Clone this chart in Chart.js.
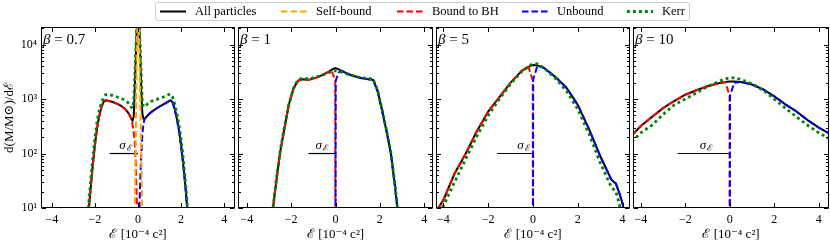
<!DOCTYPE html>
<html>
<head>
<meta charset="utf-8">
<script src="https://cdn.jsdelivr.net/npm/chart.js@4.4.1/dist/chart.umd.min.js"></script>
<style>
  body { margin: 0; width: 830px; height: 243px; overflow: hidden; position: relative; background: #fff; font-family: 'Liberation Serif', serif; }
  canvas { position: absolute; left: 0; top: 0; }
  #legend { position: absolute; left: 155px; top: 2px; width: 533px; height: 17px; border: 1px solid #ccc; border-radius: 3px; background: #fff; z-index: 5; }
  #legend .h { position: absolute; top: 0; }
  #legend .t { position: absolute; top: 0; font-size: 12.5px; line-height: 17px; white-space: nowrap; color: #000; }
</style>
</head>
<body>
<div id="legend"></div>
<script>
const betas = [0.7, 1, 5, 10];
const sigmaE = [1.31, 1.22, 1.61, 2.34];
const xTicks = [-4, -2, 0, 2, 4];
const yTicks = [10, 100, 1000, 10000];
const seriesNames = ['All particles', 'Self-bound', 'Bound to BH', 'Unbound', 'Kerr'];

// beta = 0.7
const e07 = [-2.3, -2.2, -2.1, -2.0, -1.9, -1.8, -1.7, -1.6, -1.5, -1.4, -1.2, -1.0, -0.8, -0.6, -0.45, -0.35, -0.3, -0.25, -0.2, -0.15, -0.1, -0.05, 0, 0.05, 0.1, 0.15, 0.2, 0.25, 0.3, 0.35, 0.45, 0.6, 0.8, 1.0, 1.2, 1.4, 1.5, 1.6, 1.7, 1.8, 1.9, 2.0, 2.1, 2.2, 2.3];
const all07 = [8, 22, 60, 140, 290, 480, 700, 880, 950, 930, 890, 830, 760, 660, 560, 470, 420, 400, 480, 1500, 6000, 25000, 40000, 30000, 7000, 1500, 550, 440, 430, 450, 500, 570, 650, 730, 810, 900, 950, 880, 660, 440, 270, 140, 62, 25, 8];
const self07 = [null, null, null, null, null, null, null, null, null, null, null, null, null, null, null, null, null, null, null, 8, 200, 14000, 40000, 18000, 1300, 100, 8, null, null, null, null, null, null, null, null, null, null, null, null, null, null, null, null, null, null];
const bh07 = [8, 22, 60, 140, 290, 480, 700, 880, 950, 930, 890, 830, 760, 660, 560, 470, 420, 330, 250, 170, 60, 12, 2, null, null, null, null, null, null, null, null, null, null, null, null, null, null, null, null, null, null, null, null, null, null];
const unb07 = [null, null, null, null, null, null, null, null, null, null, null, null, null, null, null, null, null, null, null, null, null, null, 2, 6, 30, 90, 220, 340, 430, 450, 500, 570, 650, 730, 810, 900, 950, 880, 660, 440, 270, 140, 62, 25, 8];
const kerr07 = [10, 30, 80, 190, 380, 620, 850, 1050, 1200, 1220, 1170, 1100, 1030, 950, 850, 760, 700, 680, 900, 2500, 8000, 28000, 40000, 30000, 9000, 2500, 900, 720, 720, 750, 820, 900, 960, 1030, 1100, 1200, 1230, 1100, 820, 560, 340, 180, 80, 30, 10];

// beta = 1
const e1 = [-2.85, -2.7, -2.5, -2.3, -2.1, -1.9, -1.7, -1.5, -1.2, -0.9, -0.6, -0.3, -0.15, -0.01, 0, 0.01, 0.15, 0.3, 0.6, 0.9, 1.2, 1.5, 1.7, 1.9, 2.1, 2.3, 2.5, 2.7, 2.85];
const all1 = [8, 25, 105, 300, 800, 1550, 2150, 2300, 2250, 2450, 2750, 3200, 3500, 3700, 3700, 3700, 3500, 3250, 2850, 2600, 2400, 2300, 2250, 1400, 620, 260, 100, 22, 6];
const bh1 = [8, 25, 105, 300, 800, 1550, 2150, 2300, 2250, 2450, 2750, 3200, 3100, 2200, 1, null, null, null, null, null, null, null, null, null, null, null, null, null, null];
const unb1 = [null, null, null, null, null, null, null, null, null, null, null, null, null, null, 1, 2200, 3100, 3250, 2850, 2600, 2400, 2300, 2250, 1400, 620, 260, 100, 22, 6];
const kerr1 = [8, 27, 110, 310, 820, 1550, 2250, 2400, 2350, 2500, 2750, 3050, 3200, 3300, 3300, 3300, 3200, 3100, 2800, 2600, 2450, 2400, 2300, 1450, 650, 270, 105, 24, 6];

// beta = 5
const e5 = [-4.3, -4.0, -3.5, -3.0, -2.5, -2.0, -1.5, -1.0, -0.5, -0.2, -0.01, 0, 0.01, 0.2, 0.5, 1.0, 1.5, 2.0, 2.5, 3.0, 3.5, 3.7, 3.85, 4.0, 4.15];
const all5 = [9, 14, 43, 100, 260, 590, 1080, 2000, 3300, 3900, 4200, 4200, 4200, 4150, 3700, 2550, 1600, 780, 280, 90, 33, 28, 19, 12, 6];
const bh5 = [9, 14, 43, 100, 260, 590, 1080, 2000, 3300, 3900, 2200, 1, null, null, null, null, null, null, null, null, null, null, null, null, null];
const unb5 = [null, null, null, null, null, null, null, null, null, null, null, 1, 2300, 4100, 3700, 2550, 1600, 780, 280, 90, 33, 28, 19, 12, 6];
const kerr5 = [5, 11, 30, 80, 210, 500, 1000, 1900, 3200, 4000, 4400, 4450, 4450, 4400, 3700, 2400, 1400, 650, 230, 68, 24, 20, 12, 6, 3];

// beta = 10
const e10 = [-4.4, -4.0, -3.5, -3.0, -2.5, -2.0, -1.5, -1.0, -0.5, -0.2, -0.01, 0, 0.01, 0.2, 0.5, 1.0, 1.5, 2.0, 2.5, 3.0, 3.5, 4.0, 4.5];
const all10 = [215, 320, 470, 680, 920, 1200, 1450, 1720, 1950, 2050, 2100, 2100, 2100, 2100, 2050, 1850, 1500, 1120, 800, 590, 410, 300, 230];
const bh10 = [215, 320, 470, 680, 920, 1200, 1450, 1720, 1950, 2050, 1150, 1, null, null, null, null, null, null, null, null, null, null, null];
const unb10 = [null, null, null, null, null, null, null, null, null, null, null, 1, 1150, 2000, 2050, 1850, 1500, 1120, 800, 590, 410, 300, 230];
const kerr10 = [165, 240, 330, 520, 780, 1000, 1300, 1700, 2100, 2350, 2430, 2450, 2450, 2450, 2300, 1900, 1450, 1000, 680, 470, 330, 240, 185];

const panels = [
  { e: e07, all: all07, self: self07, bh: bh07, unb: unb07, kerr: kerr07 },
  { e: e1, all: all1, self: null, bh: bh1, unb: unb1, kerr: kerr1 },
  { e: e5, all: all5, self: null, bh: bh5, unb: unb5, kerr: kerr5 },
  { e: e10, all: all10, self: null, bh: bh10, unb: unb10, kerr: kerr10 }
];

// layout
const W = 830, H = 243;
const panelLeft = [41, 238, 436, 633];
const panelRight = [235, 433, 630, 829];
const xMin = [-4.5, -4.4, -4.33, -4.35];
const xMax = [4.5, 4.4, 4.33, 4.46];
const sigmaTextX = [-0.58, -0.62, -0.43, -1.07];
const serif = "'Liberation Serif', 'DejaVu Serif', serif";

const styles = {
  all:  { color: '#000000', dash: [], width: 2 },
  self: { color: '#FFA500', dash: [6.5, 3], width: 2 },
  bh:   { color: '#FF0000', dash: [6.5, 3], width: 2 },
  unb:  { color: '#0000FF', dash: [6.5, 3], width: 2 },
  kerr: { color: '#008000', dash: [2.8, 3.2], width: 2.8 }
};
const legendKeys = ['all', 'self', 'bh', 'unb', 'kerr'];
const legendHandleX = [160, 281, 397, 522, 627];
const legendTextX = [195, 316, 432, 557, 662];

const sup = { 1: '¹', 2: '²', 3: '³', 4: '⁴' };

// legend
const legend = document.getElementById('legend');
legendKeys.forEach((k, i) => {
  const s = styles[k];
  const h = document.createElement('div');
  h.className = 'h';
  h.style.left = (legendHandleX[i] - 156) + 'px';
  h.innerHTML = `<svg width="26" height="17"><line x1="0" y1="8.5" x2="26" y2="8.5" stroke="${s.color}" stroke-width="${s.width}" stroke-dasharray="${s.dash.join(' ')}"/></svg>`;
  legend.appendChild(h);
  const t = document.createElement('div');
  t.className = 't';
  t.style.left = (legendTextX[i] - 156) + 'px';
  t.textContent = seriesNames[i];
  legend.appendChild(t);
});

const frame = {
  id: 'frame',
  afterDraw(chart, args, opts) {
    const { ctx, chartArea: a, scales: { x, y } } = chart;
    ctx.save();
    ctx.strokeStyle = '#000';
    ctx.lineWidth = 1;
    const L = Math.round(a.left) + 0.5, R = Math.round(a.right) - 0.5;
    const T = Math.round(a.top) + 0.5, B = Math.round(a.bottom) - 0.5;
    ctx.strokeRect(L, T, R - L, B - T);
    ctx.beginPath();
    xTicks.forEach(v => {
      const px = Math.round(x.getPixelForValue(v)) + 0.5;
      ctx.moveTo(px, B); ctx.lineTo(px, B - 4.5);
      ctx.moveTo(px, T); ctx.lineTo(px, T + 4.5);
    });
    for (let d = 1; d <= 4; d++) {
      for (let m = 1; m <= 9; m++) {
        const v = m * Math.pow(10, d);
        if (v > y.max) break;
        const len = m === 1 ? 4.5 : 2.5;
        const py = Math.round(y.getPixelForValue(v)) + 0.5;
        ctx.moveTo(L, py); ctx.lineTo(L + len, py);
        ctx.moveTo(R, py); ctx.lineTo(R - len, py);
      }
    }
    ctx.stroke();

    // beta label
    ctx.fillStyle = '#000';
    ctx.textBaseline = 'alphabetic';
    ctx.font = `italic 15px ${serif}`;
    const bx = a.left + 2, by = a.top + 17;
    ctx.fillText('β', bx, by);
    const bw = ctx.measureText('β').width;
    ctx.font = `15px ${serif}`;
    ctx.fillText(' = ' + opts.beta, bx + bw, by);

    // sigma label
    ctx.font = `italic 13px ${serif}`;
    const sw = ctx.measureText('σ').width;
    ctx.font = `9px ${serif}`;
    const ew = ctx.measureText('ℰ').width;
    const cx = x.getPixelForValue(opts.sigmaX);
    const sy = y.getPixelForValue(100) - 5;
    const sx = cx - (sw + ew + 1) / 2;
    ctx.font = `italic 13px ${serif}`;
    ctx.fillText('σ', sx, sy);
    ctx.font = `9px ${serif}`;
    ctx.fillText('ℰ', sx + sw + 1, sy + 2);
    ctx.restore();
  }
};

function line(e, vals, key) {
  const s = styles[key];
  return {
    data: e.map((v, i) => ({ x: v, y: vals[i] })),
    borderColor: s.color,
    borderWidth: s.width,
    borderDash: s.dash,
    pointRadius: 0,
    tension: 0,
    spanGaps: false,
    clip: 0,
    fill: false
  };
}

panels.forEach((p, i) => {
  const canvas = document.createElement('canvas');
  canvas.width = W; canvas.height = H;
  document.body.appendChild(canvas);
  // first dataset is drawn on top
  const datasets = [];
  if (p.self) datasets.push(line(p.e, p.self, 'self'));
  datasets.push(line(p.e, p.kerr, 'kerr'), line(p.e, p.unb, 'unb'), line(p.e, p.bh, 'bh'));
  datasets.push(line(p.e, p.all, 'all'));
  datasets.push({
    data: [{ x: -sigmaE[i], y: 100 }, { x: 0, y: 100 }],
    borderColor: '#000', borderWidth: 1.2, pointRadius: 0, clip: 0
  });
  new Chart(canvas, {
    type: 'line',
    data: { datasets },
    options: {
      responsive: false,
      animation: false,
      devicePixelRatio: 1,
      layout: { padding: { left: i === 0 ? 0 : panelLeft[i], right: W - panelRight[i], top: 27, bottom: 0 } },
      plugins: {
        legend: { display: false },
        tooltip: { enabled: false },
        frame: { beta: betas[i], sigmaX: sigmaTextX[i] }
      },
      scales: {
        x: {
          type: 'linear', min: xMin[i], max: xMax[i],
          grid: { display: false, drawTicks: false },
          border: { display: false },
          afterBuildTicks: s => { s.ticks = xTicks.map(v => ({ value: v })); },
          afterFit: s => { s.height = H - 208; },
          ticks: {
            color: '#000', padding: 5, maxRotation: 0,
            font: { family: serif, size: 12 },
            callback: v => v < 0 ? '−' + Math.abs(v) : String(v)
          },
          title: {
            display: true, text: 'ℰ [10⁻⁴ c²]', color: '#000',
            font: { family: serif, size: 13 }, padding: { top: 0, bottom: 1 }
          }
        },
        y: {
          type: 'logarithmic', min: 10, max: 21000,
          display: i === 0,
          grid: { display: false, drawTicks: false },
          border: { display: false },
          afterBuildTicks: s => { s.ticks = yTicks.map(v => ({ value: v })); },
          afterFit: s => { s.width = i === 0 ? 41 : 0; },
          ticks: {
            color: '#000', padding: 4,
            font: { family: serif, size: 12 },
            callback: v => '10' + sup[Math.round(Math.log10(v))]
          },
          title: {
            display: true, text: 'd(M/M⊙)/dℰ', color: '#000',
            font: { family: serif, size: 13 }, padding: { top: 2, bottom: 0 }
          }
        }
      }
    },
    plugins: [frame]
  });
});
</script>
</body>
</html>
